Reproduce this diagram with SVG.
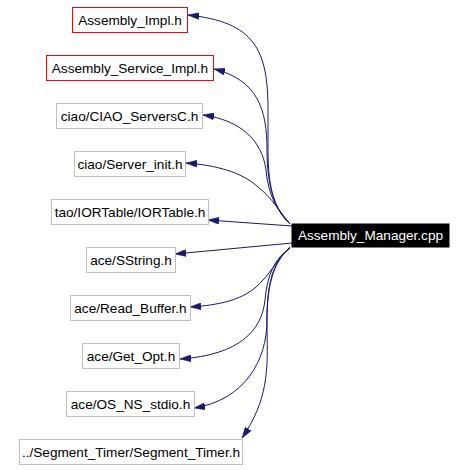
<svg xmlns="http://www.w3.org/2000/svg" width="467" height="470" viewBox="0 0 467 470">
<defs>
<style>
.n rect{fill:#ffffff;stroke:#bfbfbf;stroke-width:1}
.n.r rect{stroke:#ff0000}
.n text{font-family:"Liberation Sans",Arial,sans-serif;font-size:13.6px;fill:#000000;text-anchor:middle}
.m rect{fill:#000000;stroke:#000000}
.m text{font-family:"Liberation Sans",Arial,sans-serif;font-size:13.6px;fill:#ffffff;text-anchor:middle}
.e path{fill:none;stroke:#191970;stroke-width:1;marker-end:url(#ah)}
</style>
<marker id="ah" viewBox="0 0 11 7" refX="11" refY="3.5" markerWidth="11" markerHeight="7" markerUnits="userSpaceOnUse" orient="auto">
<path d="M0,0 L11,3.5 L0,7 z" fill="#191970" stroke="#191970" stroke-width="0.5"/>
</marker>
</defs>
<rect width="467" height="470" fill="#ffffff"/>
<g id="edges" class="e">
<path d="M290,224 C275,210 268,190 268,150 L268,110 C268,50 255,22 188,15"/>
<path d="M290,224 C276,210 267,190 267,150 C267,110 258,80 214,69"/>
<path d="M290,224 C278,212 268,195 266,170 C262,140 240,120 203,115"/>
<path d="M290,224 C280,212 272,198 258,187 C242,172 215,165 186,163"/>
<path d="M292,226 L208,220"/>
<path d="M292,243 L175,254"/>
<path d="M290,247 C278,258 270,275 255,288 C240,300 220,305 190,307"/>
<path d="M290,248 C275,258 267,275 265,300 C262,330 240,355 180,359"/>
<path d="M290,248 C272,262 267,285 267,320 C267,360 245,400 194,408"/>
<path d="M290,248 C272,262 266,290 267,330 C268,370 268,400 242,438"/>
</g>
<g id="n1" class="n r"><rect x="72.5" y="7.5" width="115" height="25"/><text x="130" y="25">Assembly_Impl.h</text></g>
<g id="n2" class="n r"><rect x="46.5" y="55.5" width="167" height="25"/><text x="130" y="73">Assembly_Service_Impl.h</text></g>
<g id="n3" class="n"><rect x="56.5" y="103.5" width="146" height="25"/><text x="129.5" y="121">ciao/CIAO_ServersC.h</text></g>
<g id="n4" class="n"><rect x="74.5" y="151.5" width="111" height="25"/><text x="130" y="169">ciao/Server_init.h</text></g>
<g id="n5" class="n"><rect x="51.5" y="199.5" width="157" height="25"/><text x="130" y="217">tao/IORTable/IORTable.h</text></g>
<g id="n6" class="n"><rect x="86.5" y="247.5" width="89" height="25"/><text x="131" y="265">ace/SString.h</text></g>
<g id="n7" class="n"><rect x="70.5" y="295.5" width="120" height="25"/><text x="130.5" y="313">ace/Read_Buffer.h</text></g>
<g id="n8" class="n"><rect x="82.5" y="343.5" width="97" height="25"/><text x="131" y="361">ace/Get_Opt.h</text></g>
<g id="n9" class="n"><rect x="66.5" y="391.5" width="128" height="25"/><text x="130.5" y="409">ace/OS_NS_stdio.h</text></g>
<g id="n10" class="n"><rect x="19.5" y="439.5" width="223" height="25"/><text x="131" y="457">../Segment_Timer/Segment_Timer.h</text></g>
<g id="main" class="m"><rect x="292" y="224" width="157" height="23"/><text x="370.5" y="240">Assembly_Manager.cpp</text></g>
</svg>
